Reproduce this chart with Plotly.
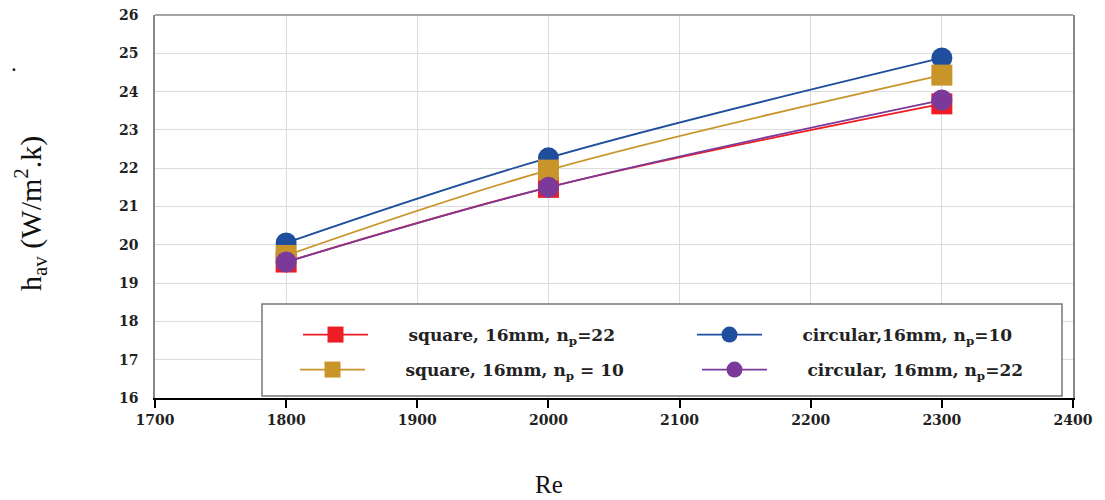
import plotly.graph_objects as go

re_vals = [1800, 2000, 2300]
square_np22 = [19.55, 21.5, 23.68]
square_np10 = [19.72, 21.95, 24.43]
circular_np10 = [20.05, 22.27, 24.88]
circular_np22 = [19.55, 21.5, 23.78]
y_ticks = list(range(16, 27))
x_ticks = [1700, 1800, 1900, 2000, 2100, 2200, 2300, 2400]

names = ["square, 16mm, n<sub>p</sub>=22", "circular,16mm, n<sub>p</sub>=10",
         "square, 16mm, n<sub>p</sub> = 10", "circular, 16mm, n<sub>p</sub>=22"]
series = [square_np22, circular_np10, square_np10, circular_np22]
colors = ["#ee1c25", "#1f4e9c", "#c9952b", "#7b3a9a"]
symbols = ["square", "circle", "square", "circle"]
legend_ids = ["legend", "legend2", "legend3", "legend4"]

# page-pixel geometry (browser adds 8px body margin)
OFF = 8
L, R, T, B = 155, 1073, 15, 398
PW, PH = R - L, B - T
W, H = 1105 - OFF, 500 - OFF

def px(x):
    return (x - L) / PW

def py(y):
    return (B - y) / PH

# legend entry positions: (line start x, row centre y)
leg_pos = [(303, 335), (697, 335), (300, 370), (702, 370)]
pad = "&nbsp;" * 6

fig = go.Figure()
for nm, ys, c, s, lid in zip(names, series, colors, symbols, legend_ids):
    fig.add_trace(go.Scatter(
        x=re_vals, y=ys, name=pad + nm, mode="lines+markers",
        line=dict(color=c, width=1.8, shape="spline"),
        marker=dict(symbol=s, size=21, color=c),
        legend=lid,
    ))

tickfont = dict(family="DejaVu Serif", size=14, color="#222", weight="bold")
legfont = dict(family="DejaVu Serif", size=17, color="#222", weight="bold")

layout_legends = {}
for lid, (lx, ly) in zip(legend_ids, leg_pos):
    layout_legends[lid] = dict(
        orientation="h", x=px(lx - 5), y=py(ly), xanchor="left", yanchor="middle",
        bgcolor="rgba(0,0,0,0)", borderwidth=0,
        font=legfont, itemsizing="trace", itemwidth=65,
    )

fig.update_layout(
    width=W, height=H,
    margin=dict(l=L - OFF, r=W - (R - OFF), t=T - OFF, b=H - (B - OFF), pad=0, autoexpand=False),
    plot_bgcolor="white", paper_bgcolor="white",
    showlegend=True,
    xaxis=dict(
        range=[1700, 2400], tickvals=x_ticks,
        showgrid=True, gridcolor="#dcdcdc", gridwidth=1,
        showline=True, linecolor="black", linewidth=2,
        ticks="outside", ticklen=8, tickwidth=2, tickcolor="black",
        tickfont=tickfont, mirror=False, automargin=False,
        ticklabeloverflow="allow", zeroline=False,
    ),
    yaxis=dict(
        range=[16, 26], tickvals=y_ticks,
        showgrid=True, gridcolor="#dcdcdc", gridwidth=1,
        showline=True, linecolor="#888", linewidth=1.5, mirror=True,
        ticks="outside", ticklen=12, tickcolor="rgba(0,0,0,0)",
        tickfont=tickfont, automargin=False,
        ticklabeloverflow="allow", zeroline=False,
    ),
    **layout_legends,
)
# top frame line
fig.add_shape(type="line", xref="paper", yref="paper", x0=0, x1=1, y0=1, y1=1,
              line=dict(color="#888", width=1.5))
# legend box
fig.add_shape(type="rect", xref="paper", yref="paper",
              x0=px(262), x1=px(1062), y0=py(396), y1=py(304),
              line=dict(color="#777", width=1.5), fillcolor="white", layer="above")

fig.add_annotation(x=px(549), y=py(484), xref="paper", yref="paper",
                   text="Re", showarrow=False, xanchor="center", yanchor="middle",
                   font=dict(family="Liberation Serif", size=25, color="#111"))
fig.add_annotation(x=px(31), y=py(213), xref="paper", yref="paper",
                   text="h<sub>av</sub> (W/m<sup>2</sup>.k)", textangle=-90,
                   showarrow=False, xanchor="center", yanchor="middle",
                   font=dict(family="Liberation Serif", size=30, color="#111"))
fig.add_annotation(x=px(14), y=py(62), xref="paper", yref="paper",
                   text=".", showarrow=False, xanchor="center", yanchor="middle",
                   font=dict(size=22, color="#111"))
fig.write_html("out.html")
